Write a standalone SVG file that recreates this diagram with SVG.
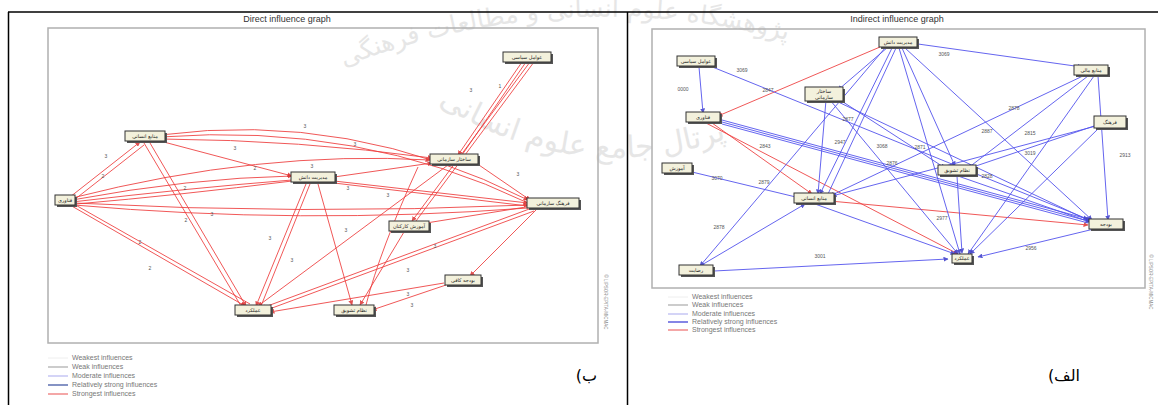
<svg xmlns="http://www.w3.org/2000/svg" width="1161" height="405" viewBox="0 0 1161 405">
<style>
.frame{fill:none;stroke:#b0b0b0;stroke-width:1.5}
.title{font-family:"Liberation Sans",Arial,sans-serif;font-size:9px;fill:#333;text-anchor:middle}
.nb{fill:#f3f1dc;stroke:#333;stroke-width:1}
.sh{fill:#555}
.nt{font-family:"DejaVu Sans",sans-serif;font-size:5px;fill:#222;text-anchor:middle}
.r{stroke:#ee3b3b;stroke-width:1;fill:none;opacity:.85}
.b{stroke:#5555ee;stroke-width:1;fill:none;opacity:.9}
.el{font-family:"Liberation Sans",Arial,sans-serif;font-size:5px;fill:#555;text-anchor:middle}
.lg{font-family:"Liberation Sans",Arial,sans-serif;font-size:7px;fill:#777}
.wm{font-family:"DejaVu Sans",sans-serif;fill:#e6e6e6}
.ar{font-family:"DejaVu Sans","Noto Sans",sans-serif;font-size:16px;fill:#000}
.cr{font-family:"Liberation Sans",sans-serif;font-size:4.5px;fill:#888;text-anchor:middle}
</style>
<defs>
<marker id="ma" markerWidth="5" markerHeight="5" refX="4.5" refY="2.5" orient="auto"><path d="M0,0L5,2.5L0,5z" fill="#d33"/></marker>
<marker id="mb" markerWidth="5" markerHeight="5" refX="4.5" refY="2.5" orient="auto"><path d="M0,0L5,2.5L0,5z" fill="#44c"/></marker>
<path id="arc1" d="M330,72 Q570,-25 815,48"/>
<path id="arc2" d="M425,95 Q600,215 805,105"/>
</defs>
<rect width="1161" height="405" fill="#fff"/>
<!-- watermark -->
<g id="watermark">
<text class="wm" font-size="25"><textPath href="#arc1" startOffset="3%">پژوهشگاه علوم انسانی و مطالعات فرهنگی</textPath></text>
<text class="wm" font-size="30"><textPath href="#arc2" startOffset="4%">پرتال جامع علوم انسانی</textPath></text>
</g>
<!-- table borders -->
<g id="table" stroke="#000">
<line x1="8" y1="12" x2="1158" y2="12" stroke-width="1.3"/>
<line x1="8.5" y1="12" x2="8.5" y2="405" stroke-width="1.5"/>
<line x1="627.5" y1="12" x2="627.5" y2="405" stroke-width="1.5"/>
</g>
<!-- LEFT PANEL -->
<g id="left-panel">
<text class="title" x="287" y="22">Direct influence graph</text>
<rect class="frame" x="48" y="28" width="550" height="315"/>
<text class="cr" x="604" y="302" transform="rotate(90 604 302)">© LIPSOR-EPITA-MICMAC</text>
</g>
<g id="left-connectors">
<path class="r" d="M70,197 L140,142" marker-end="url(#ma)"/>
<path class="r" d="M74,200 L144,145"/>
<path class="r" d="M72,200 Q190,178 292,176" marker-end="url(#ma)"/>
<path class="r" d="M72,202 Q190,188 292,180"/>
<path class="r" d="M72,198 Q260,150 430,160" marker-end="url(#ma)"/>
<path class="r" d="M74,203 Q300,215 528,205" marker-end="url(#ma)"/>
<path class="r" d="M74,205 Q300,225 528,208"/>
<path class="r" d="M70,205 L245,306" marker-end="url(#ma)"/>
<path class="r" d="M72,203 L250,304"/>
<path class="r" d="M160,141 L292,176" marker-end="url(#ma)"/>
<path class="r" d="M162,139 Q300,140 432,158" marker-end="url(#ma)"/>
<path class="r" d="M160,135 Q350,110 528,200" marker-end="url(#ma)"/>
<path class="r" d="M160,137 Q360,122 528,203"/>
<path class="r" d="M150,143 L246,306" marker-end="url(#ma)"/>
<path class="r" d="M144,143 L241,306"/>
<path class="r" d="M334,177 L432,163" marker-end="url(#ma)"/>
<path class="r" d="M334,181 L528,203" marker-end="url(#ma)"/>
<path class="r" d="M334,183 L528,206"/>
<path class="r" d="M306,184 L256,306" marker-end="url(#ma)"/>
<path class="r" d="M310,184 L261,306"/>
<path class="r" d="M318,184 L352,305" marker-end="url(#ma)"/>
<path class="r" d="M292,181 Q180,195 76,204"/>
<path class="r" d="M448,165 L258,306" marker-end="url(#ma)"/>
<path class="r" d="M476,163 L530,200" marker-end="url(#ma)"/>
<path class="r" d="M522,62 L458,155" marker-end="url(#ma)"/>
<path class="r" d="M526,62 L462,155"/>
<path class="r" d="M530,62 L412,221" marker-end="url(#ma)"/>
<path class="r" d="M534,62 L416,221"/>
<path class="r" d="M532,208 L262,308" marker-end="url(#ma)"/>
<path class="r" d="M534,211 L264,311"/>
<path class="r" d="M532,206 L420,224" marker-end="url(#ma)"/>
<path class="r" d="M536,210 L470,276" marker-end="url(#ma)"/>
<path class="r" d="M404,232 L360,305" marker-end="url(#ma)"/>
<path class="r" d="M444,283 L270,312" marker-end="url(#ma)"/>
<path class="r" d="M446,285 L372,310" marker-end="url(#ma)"/>
<path class="r" d="M418,167 Q380,250 366,305"/>
<g class="el">
<text x="106" y="158">3</text><text x="103" y="178">2</text><text x="185" y="190">2</text><text x="186" y="222">2</text>
<text x="140" y="244">2</text><text x="150" y="270">2</text><text x="235" y="150">3</text><text x="255" y="170">2</text>
<text x="305" y="128">3</text><text x="355" y="146">3</text><text x="312" y="168">3</text><text x="348" y="190">3</text>
<text x="212" y="216">3</text><text x="270" y="240">3</text><text x="292" y="262">3</text><text x="346" y="232">3</text>
<text x="471" y="92">3</text><text x="500" y="88">1</text><text x="518" y="176">3</text><text x="408" y="272">3</text>
<text x="435" y="248">3</text><text x="408" y="296">3</text><text x="412" y="307">3</text><text x="388" y="197">3</text>
</g>
</g>
<g id="L1"><rect class="sh" x="505" y="54" width="48" height="10"/><rect class="nb" x="503" y="52" width="48" height="10"/><text class="nt" x="527" y="59">عوامل سیاسی</text></g>
<g id="L2"><rect class="sh" x="127" y="133" width="40" height="10"/><rect class="nb" x="125" y="131" width="40" height="10"/><text class="nt" x="145" y="138">منابع انسانی</text></g>
<g id="L3"><rect class="sh" x="432" y="156" width="48" height="10"/><rect class="nb" x="430" y="154" width="48" height="10"/><text class="nt" x="454" y="161">ساختار سازمانی</text></g>
<g id="L4"><rect class="sh" x="293" y="174" width="44" height="10"/><rect class="nb" x="291" y="172" width="44" height="10"/><text class="nt" x="313" y="179">مدیریت دانش</text></g>
<g id="L5"><rect class="sh" x="57" y="197" width="20" height="10"/><rect class="nb" x="55" y="195" width="20" height="10"/><text class="nt" x="65" y="202">فناوری</text></g>
<g id="L6"><rect class="sh" x="529" y="200" width="52" height="10"/><rect class="nb" x="527" y="198" width="52" height="10"/><text class="nt" x="553" y="205">فرهنگ سازمانی</text></g>
<g id="L7"><rect class="sh" x="391" y="223" width="40" height="10"/><rect class="nb" x="389" y="221" width="40" height="10"/><text class="nt" x="409" y="228">آموزش کارکنان</text></g>
<g id="L8"><rect class="sh" x="237" y="307" width="36" height="10"/><rect class="nb" x="235" y="305" width="36" height="10"/><text class="nt" x="253" y="312">عملکرد</text></g>
<g id="L9"><rect class="sh" x="336" y="307" width="40" height="10"/><rect class="nb" x="334" y="305" width="40" height="10"/><text class="nt" x="354" y="312">نظام تشویق</text></g>
<g id="L10"><rect class="sh" x="447" y="277" width="36" height="10"/><rect class="nb" x="445" y="275" width="36" height="10"/><text class="nt" x="463" y="282">بودجه کافی</text></g>
<g id="left-legend">
<line x1="48" y1="358" x2="68" y2="358" stroke="#eee"/><text class="lg" x="72" y="360">Weakest influences</text>
<line x1="48" y1="367" x2="68" y2="367" stroke="#999"/><text class="lg" x="72" y="369">Weak influences</text>
<line x1="48" y1="376" x2="68" y2="376" stroke="#a9a9ee"/><text class="lg" x="72" y="378">Moderate influences</text>
<line x1="48" y1="385" x2="68" y2="385" stroke="#5d6fb0" stroke-width="1.5"/><text class="lg" x="72" y="387">Relatively strong influences</text>
<line x1="48" y1="394" x2="68" y2="394" stroke="#f08a8a" stroke-width="1.5"/><text class="lg" x="72" y="396">Strongest influences</text>
</g>
<text class="ar" x="597" y="381" text-anchor="start" direction="rtl">ب)</text>
<!-- RIGHT PANEL -->
<g id="right-panel">
<text class="title" x="897" y="22">Indirect influence graph</text>
<rect class="frame" x="652" y="29" width="493" height="259"/>
<text class="cr" x="1149" y="282" transform="rotate(90 1149 282)">© LIPSOR-EPITA-MICMAC</text>
</g>
<g id="right-connectors">
<path class="r" d="M880,47 L718,116" marker-end="url(#ma)"/>
<path class="r" d="M712,123 L812,194" marker-end="url(#ma)"/>
<path class="r" d="M706,123 L958,254" marker-end="url(#ma)"/>
<path class="r" d="M830,201 L1088,225" marker-end="url(#ma)"/>
<path class="b" d="M699,67 L703,113" marker-end="url(#mb)"/>
<path class="b" d="M710,66 L1090,220" marker-end="url(#mb)"/>
<path class="b" d="M918,44 L1082,67" marker-end="url(#mb)"/>
<path class="b" d="M892,48 L820,194" marker-end="url(#mb)"/>
<path class="b" d="M896,48 L828,194"/>
<path class="b" d="M899,48 L960,254" marker-end="url(#mb)"/>
<path class="b" d="M905,48 L1092,220" marker-end="url(#mb)"/>
<path class="b" d="M902,48 L955,166" marker-end="url(#mb)"/>
<path class="b" d="M888,47 L838,90" marker-end="url(#mb)"/>
<path class="b" d="M885,48 L700,266" marker-end="url(#mb)"/>
<path class="b" d="M1085,75 L830,196" marker-end="url(#mb)"/>
<path class="b" d="M1088,76 L968,168" marker-end="url(#mb)"/>
<path class="b" d="M1094,76 L968,254" marker-end="url(#mb)"/>
<path class="b" d="M1098,76 L1108,220" marker-end="url(#mb)"/>
<path class="b" d="M826,100 L818,194" marker-end="url(#mb)"/>
<path class="b" d="M834,100 L1092,222" marker-end="url(#mb)"/>
<path class="b" d="M830,100 L958,254" marker-end="url(#mb)"/>
<path class="b" d="M722,120 L1088,219" marker-end="url(#mb)"/>
<path class="b" d="M722,122 L1088,221"/>
<path class="b" d="M722,124 L1088,223"/>
<path class="b" d="M1096,126 L832,196" marker-end="url(#mb)"/>
<path class="b" d="M1100,127 L970,254" marker-end="url(#mb)"/>
<path class="b" d="M1094,126 L970,168" marker-end="url(#mb)"/>
<path class="b" d="M692,172 L800,198" marker-end="url(#mb)"/>
<path class="b" d="M700,266 L805,204" marker-end="url(#mb)"/>
<path class="b" d="M714,271 L948,259" marker-end="url(#mb)"/>
<path class="b" d="M1094,229 L978,257" marker-end="url(#mb)"/>
<path class="b" d="M958,176 L1090,222" marker-end="url(#mb)"/>
<path class="b" d="M957,176 L962,253" marker-end="url(#mb)"/>
<path class="b" d="M815,204 L955,254" marker-end="url(#mb)"/>
<path class="b" d="M840,100 L945,168" marker-end="url(#mb)"/>
<g class="el">
<text x="683" y="91">0000</text><text x="742" y="72">3069</text><text x="768" y="92">2847</text><text x="944" y="56">3069</text>
<text x="1014" y="110">2878</text><text x="1125" y="157">2913</text><text x="848" y="121">2877</text><text x="987" y="133">2887</text>
<text x="1030" y="135">2815</text><text x="840" y="144">2947</text><text x="882" y="148">3068</text><text x="920" y="149">2871</text>
<text x="765" y="148">2843</text><text x="1030" y="155">3019</text><text x="717" y="180">3070</text><text x="764" y="184">2879</text>
<text x="719" y="229">2878</text><text x="820" y="258">3001</text><text x="1031" y="250">2956</text><text x="942" y="220">2977</text>
<text x="892" y="165">2876</text><text x="987" y="178">2828</text>
</g>
</g>
<g id="R1"><rect class="sh" x="881" y="39" width="38" height="10"/><rect class="nb" x="879" y="37" width="38" height="10"/><text class="nt" x="898" y="44">مدیریت دانش</text></g>
<g id="R2"><rect class="sh" x="679" y="58" width="38" height="10"/><rect class="nb" x="677" y="56" width="38" height="10"/><text class="nt" x="696" y="63">عوامل سیاسی</text></g>
<g id="R3"><rect class="sh" x="1076" y="67" width="34" height="10"/><rect class="nb" x="1074" y="65" width="34" height="10"/><text class="nt" x="1091" y="72">منابع مالی</text></g>
<g id="R4"><rect class="sh" x="807" y="89" width="38" height="14"/><rect class="nb" x="805" y="87" width="38" height="14"/><text class="nt" x="824" y="93">ساختار</text><text class="nt" x="824" y="99">سازمانی</text></g>
<g id="R5"><rect class="sh" x="688" y="114" width="34" height="10"/><rect class="nb" x="686" y="112" width="34" height="10"/><text class="nt" x="703" y="119">فناوری</text></g>
<g id="R6"><rect class="sh" x="1096" y="118" width="32" height="12"/><rect class="nb" x="1094" y="116" width="32" height="12"/><text class="nt" x="1110" y="124">فرهنگ</text></g>
<g id="R7"><rect class="sh" x="664" y="165" width="30" height="10"/><rect class="nb" x="662" y="163" width="30" height="10"/><text class="nt" x="677" y="170">آموزش</text></g>
<g id="R8"><rect class="sh" x="940" y="167" width="38" height="10"/><rect class="nb" x="938" y="165" width="38" height="10"/><text class="nt" x="957" y="172">نظام تشویق</text></g>
<g id="R9"><rect class="sh" x="796" y="195" width="40" height="10"/><rect class="nb" x="794" y="193" width="40" height="10"/><text class="nt" x="814" y="200">منابع انسانی</text></g>
<g id="R10"><rect class="sh" x="1091" y="221" width="34" height="10"/><rect class="nb" x="1089" y="219" width="34" height="10"/><text class="nt" x="1106" y="226">بودجه</text></g>
<g id="R11"><rect class="sh" x="954" y="256" width="20" height="9"/><rect class="nb" x="952" y="254" width="20" height="9"/><text class="nt" x="962" y="260">عملکرد</text></g>
<g id="R12"><rect class="sh" x="681" y="267" width="34" height="10"/><rect class="nb" x="679" y="265" width="34" height="10"/><text class="nt" x="696" y="272">رضایت</text></g>
<g id="right-legend">
<line x1="668" y1="297" x2="688" y2="297" stroke="#eee"/><text class="lg" x="692" y="299">Weakest influences</text>
<line x1="668" y1="305" x2="688" y2="305" stroke="#999"/><text class="lg" x="692" y="307">Weak influences</text>
<line x1="668" y1="314" x2="688" y2="314" stroke="#a9a9ee"/><text class="lg" x="692" y="316">Moderate influences</text>
<line x1="668" y1="322" x2="688" y2="322" stroke="#5d5ddd" stroke-width="1.5"/><text class="lg" x="692" y="324">Relatively strong influences</text>
<line x1="668" y1="330" x2="688" y2="330" stroke="#f08a8a" stroke-width="1.5"/><text class="lg" x="692" y="332">Strongest influences</text>
</g>
<text class="ar" x="1080" y="381" text-anchor="start" direction="rtl">الف)</text>
</svg>
